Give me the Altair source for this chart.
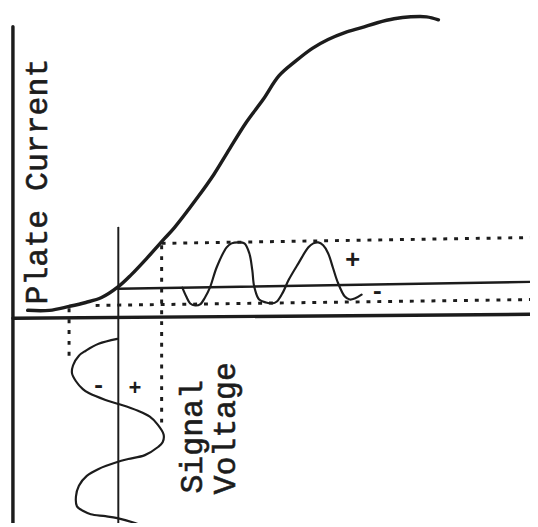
import altair as alt
import pandas as pd

# Diagram units: u = grid-bias axis (to the right), v = plate current (up);
# below the horizontal axis v runs downward as the time axis of the signal.

# Tube characteristic (plate current vs. grid voltage)
curve_u = [15, 37, 57, 74, 90, 107, 120, 137, 154, 164, 187, 204, 220, 237, 254,
           270, 287, 304, 320, 337, 354, 370, 387, 404, 420, 432]
curve_v = [8, 8, 12, 16, 21, 32, 44, 62, 81, 92, 122, 146, 172, 199, 222,
           246, 261, 274, 283, 290, 295, 300, 304, 306, 306, 303]

# Plate-current output wave (distorted)
out_u = [172, 176, 180, 185, 190, 195, 200, 207, 217, 222, 229, 235, 240, 243, 245,
         250, 257, 263, 268, 274, 280, 290, 300, 305, 310, 315, 320, 325, 330, 337,
         342, 347, 354]
out_v = [31, 22, 15, 13, 14, 21, 31, 52, 72, 76, 77, 76, 66, 49, 32,
         19, 16, 15, 17, 26, 39, 56, 72, 76, 77, 74, 66, 51, 36, 22,
         19, 20, 24]

# Grid signal voltage wave (time runs downward)
sig_u = [106, 87, 74, 67, 61, 60, 64, 71, 77, 94, 107, 127, 139, 147, 153, 152,
         147, 134, 117, 106, 87, 75, 67, 64, 65, 72, 79, 94, 106, 124, 132]
sig_v = [-21, -26, -33, -38, -48, -56, -64, -72, -76, -83, -87, -94, -100, -108,
         -118, -126, -131, -139, -143, -146, -153, -160, -170, -181, -191, -196,
         -199, -201, -203, -208, -211]

# Axes and reference lines: (u1, v1, u2, v2)
solid_lines = {
    "plate_axis": ([0, -220], [0, 296], 3.5),
    "voltage_axis": ([0, 0], [530, 4], 3.5),
    "bias_line": ([107, 30], [530, 37], 2.5),
    "operating_line": ([107, 92], [107, -220], 2.0),
}
dotted_lines = {
    "i_max": ([151, 76], [530, 82]),
    "i_min": ([84, 13], [530, 19]),
    "e_max": ([151, 74], [151, -108]),
    "e_min": ([57, 10], [57, -41]),
}

# Text labels
label_text = ["Plate Current", "Signal", "Voltage"]
label_u = [35, 192, 225]
label_v = [14, -178, -179]

sign_text = ["+", "-", "+", "-"]
sign_u = [345, 370, 124, 87]
sign_v = [59, 27, -71, -69]
sign_size = [26, 24, 22, 24]

INK = "#1c1c1c"
W, H = 530, 519
xs = alt.Scale(domain=[-5, 525], nice=False, zero=False)
ys = alt.Scale(domain=[-208, 311], nice=False, zero=False)
X = lambda: alt.X("u:Q", scale=xs, axis=None)
Y = lambda: alt.Y("v:Q", scale=ys, axis=None)


def path(us, vs, width, dash=None, interp="linear"):
    df = pd.DataFrame({"u": us, "v": vs, "i": list(range(len(us)))})
    kw = dict(color=INK, strokeWidth=width, clip=True, interpolate=interp,
              strokeCap="round", strokeJoin="round")
    if dash:
        kw["strokeDash"] = dash
        kw["strokeCap"] = "butt"
    return alt.Chart(df).mark_line(**kw).encode(x=X(), y=Y(), order="i:Q")


layers = []
for name, (p1, p2, w) in solid_lines.items():
    layers.append(path([p1[0], p2[0]], [p1[1], p2[1]], w))
for name, (p1, p2) in dotted_lines.items():
    layers.append(path([p1[0], p2[0]], [p1[1], p2[1]], 3, dash=[4, 7]))

layers.append(path(curve_u, curve_v, 3.5, interp="catmull-rom"))
layers.append(path(out_u, out_v, 2.2, interp="catmull-rom"))
layers.append(path(sig_u, sig_v, 2.2, interp="catmull-rom"))

labels = pd.DataFrame({"u": label_u, "v": label_v, "t": label_text})
layers.append(
    alt.Chart(labels).mark_text(
        angle=270, align="left", baseline="alphabetic", font="Liberation Mono",
        fontSize=32, color=INK, stroke=INK, strokeWidth=0.6, clip=True
    ).encode(x=X(), y=Y(), text="t:N")
)

signs = pd.DataFrame({"u": sign_u, "v": sign_v, "t": sign_text, "s": sign_size})
layers.append(
    alt.Chart(signs).mark_text(
        align="center", baseline="middle", font="Liberation Mono",
        fontWeight="bold", color=INK, clip=True
    ).encode(x=X(), y=Y(), text="t:N", size=alt.Size("s:Q", scale=None))
)

chart = alt.layer(*layers).properties(
    width=W, height=H, padding=0,
    autosize=alt.AutoSizeParams(type="fit", contains="padding"),
    background="white",
).configure_view(stroke=None)

chart.save("out.html", embed_options={"renderer": "svg", "actions": False})
